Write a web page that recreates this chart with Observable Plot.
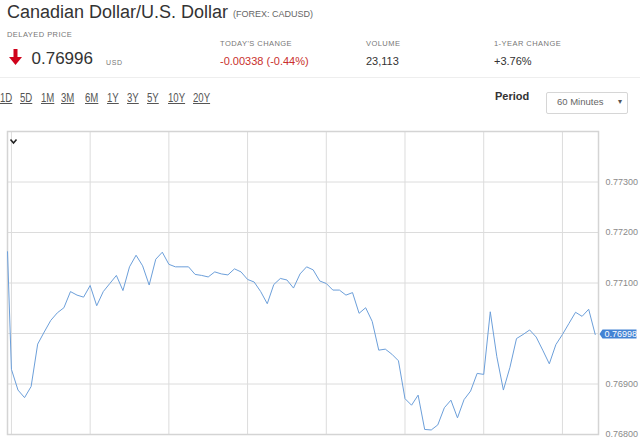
<!DOCTYPE html>
<html><head><meta charset="utf-8">
<script src="https://cdn.jsdelivr.net/npm/d3@7"></script>
<script src="https://cdn.jsdelivr.net/npm/@observablehq/plot@0.6"></script>
<style>
body{margin:0;background:#fff;font-family:"Liberation Sans",Arial,sans-serif;width:640px;height:441px;overflow:hidden;position:relative}
.a{position:absolute;white-space:nowrap;line-height:1}
.lbl{font-size:7.5px;letter-spacing:0.45px;color:#777}
.val{font-size:11px;color:#333}
.lnk{font-size:12px;color:#555;text-decoration:underline;transform:scaleX(0.8);transform-origin:0 0}
#chart{position:absolute;left:0;top:120px}
</style></head><body>
<div class="a" style="left:7px;top:3px;font-size:18px;color:#333">Canadian Dollar/U.S. Dollar</div>
<div class="a" style="left:233px;top:10px;font-size:9px;color:#666">(FOREX: CADUSD)</div>
<div class="a lbl" style="left:7px;top:30.5px">DELAYED PRICE</div>
<svg class="a" style="left:9px;top:49px" width="14" height="17"><path d="M4.5 0 H8.5 V8 H13 L6.5 16 L0 8 H4.5 Z" fill="#d0021b"/></svg>
<div class="a" style="left:31.5px;top:49.6px;font-size:17px;color:#333">0.76996</div>
<div class="a" style="left:106px;top:58.8px;font-size:7px;letter-spacing:0.6px;color:#777">USD</div>
<div class="a lbl" style="left:220px;top:40.3px">TODAY'S CHANGE</div>
<div class="a val" style="left:220px;top:56.4px;color:#c9302c">-0.00338 (-0.44%)</div>
<div class="a lbl" style="left:366px;top:40.3px">VOLUME</div>
<div class="a val" style="left:366px;top:56.4px">23,113</div>
<div class="a lbl" style="left:494px;top:40.3px">1-YEAR CHANGE</div>
<div class="a val" style="left:494px;top:56.4px">+3.76%</div>
<div class="a" style="left:0;top:77px;width:640px;height:1px;background:#eee"></div>
<div id="links"></div>
<div class="a" style="left:495px;top:90.7px;font-size:11px;font-weight:bold;color:#333">Period</div>
<div class="a" style="left:545.5px;top:91.5px;width:80px;height:20px;border:1px solid #d6d6d6;border-radius:2px"></div>
<div class="a" style="left:557px;top:97.3px;font-size:9.5px;color:#666">60 Minutes</div>
<div class="a" style="left:618px;top:98px;font-size:8px;color:#555">▾</div>
<div id="chart"></div>
<svg class="a" style="left:0;top:120px" width="30" height="30"><path d="M10.5 19.5 L13.5 23 L16.5 19.5" fill="none" stroke="#222" stroke-width="1.6"/></svg>
<script>
// Range selector labels and their x positions
const rangeLabels = ["1D","5D","1M","3M","6M","1Y","3Y","5Y","10Y","20Y"];
const rangeX = [0,19.5,40.5,61,85,107,127,146.5,168,193];

// Hourly series (hours from the first full 12h gridline)
const hours = [-0.6,0,1,2,3,4,5,6,7,8,9,10,11,12,13,14,15,16,17,18,19,20,21,22,23,24,25,26,27,28,29,30,31,32,33,34,35,36,37,38,39,40,41,42,43,44,45,46,47,48,49,50,51,52,53,54,55,56,57,58,59,60,61,62,63,64,65,66,67,68,69,70,71,72,73,74,75,76,77,78,79,80,81,82,83,84,85,86,87,88,89];
const prices = [
0.77162,0.76929,0.76888,0.76873,0.76895,0.76979,0.77003,0.77026,0.77041,0.77051,
0.77083,0.77076,0.77072,0.77095,0.77055,0.77083,0.77099,0.77115,0.77085,0.77132,
0.77155,0.77134,0.77096,0.77147,0.77161,0.77137,0.77132,0.77132,0.77132,0.77117,
0.77115,0.77112,0.77122,0.77118,0.77116,0.77128,0.77122,0.77107,0.77102,0.77083,
0.77059,0.77097,0.77109,0.77106,0.77090,0.77118,0.77132,0.77126,0.77104,0.77099,
0.77086,0.77086,0.77076,0.77081,0.77040,0.77051,0.77024,0.76967,0.76969,0.76959,
0.76946,0.76871,0.76858,0.76878,0.76810,0.76809,0.76819,0.76853,0.76868,0.76833,
0.76869,0.76886,0.76921,0.76919,0.77043,0.76954,0.76888,0.76933,0.76990,0.76998,
0.77007,0.76993,0.76967,0.76940,0.76978,0.76998,0.77020,0.77042,0.77034,0.77048,
0.76998];
const gridHours = [0,12,24,36,48,60,72,84];
const yTicks = [0.768,0.769,0.770,0.771,0.772,0.773];
// the 0.77000 label is covered by the current-price tag in the reference
const yLabels = [0.768,0.769,0.771,0.772,0.773];
const xDomain = [-0.6, 89.5];
const yDomain = [0.768, 0.774];
const lastLabel = "0.76998";

const links = document.getElementById("links");
rangeLabels.forEach((t,i)=>{
  const d = document.createElement("div");
  d.className = "a lnk";
  d.style.left = rangeX[i]+"px";
  d.style.top = "92px";
  d.textContent = t;
  links.appendChild(d);
});

const data = hours.map((h,i)=>({h, p: prices[i]}));

const chart = Plot.plot({
  width: 640, height: 321,
  marginTop: 11, marginBottom: 7, marginLeft: 7, marginRight: 42,
  style: {fontFamily: '"Liberation Sans", Arial, sans-serif', background: "transparent"},
  x: {domain: xDomain, axis: null},
  y: {domain: yDomain, axis: null},
  marks: [
    Plot.ruleX(gridHours, {stroke: "#dcdcdc", strokeWidth: 1}),
    Plot.ruleY(yTicks, {stroke: "#dcdcdc", strokeWidth: 1}),
    Plot.frame({stroke: "#d4d4d4", strokeWidth: 1.5}),
    Plot.line(data, {x: "h", y: "p", stroke: "#6c9fda", strokeWidth: 1}),
    Plot.axisY(yLabels, {anchor: "right", label: null, tickSize: 0, tickPadding: 7, tickFormat: d3.format(".5f"), fontSize: 9, fill: "#8a8a8a"})
  ]
});
document.getElementById("chart").appendChild(chart);

// current price tag at the right edge
const yLast = chart.scale("y").apply(prices[prices.length-1]);
const g = d3.select(chart).append("g");
const x0 = 640 - 42 + 1.5;
g.append("path")
  .attr("d", `M${x0} ${yLast} L${x0+3} ${yLast-4.5} H${x0+37} V${yLast+4.5} H${x0+3} Z`)
  .attr("fill", "#4483d4");
g.append("text")
  .attr("x", x0+5).attr("y", yLast).attr("dy", "0.34em")
  .attr("text-anchor", "start")
  .attr("font-size", 9).attr("fill", "#fff")
  .text(lastLabel);
</script>
</body></html>
